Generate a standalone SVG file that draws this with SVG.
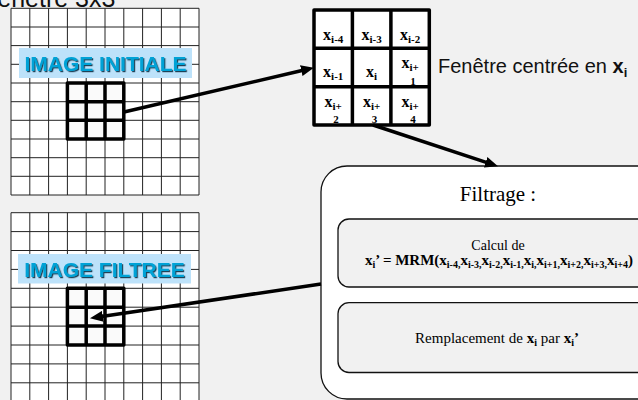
<svg xmlns="http://www.w3.org/2000/svg" width="638" height="400" viewBox="0 0 638 400">
<style>
.grid{fill:none;stroke:#222;stroke-width:1}
.bold{fill:none;stroke:#000;stroke-width:3.5;stroke-linejoin:round}
.lblbox{fill:#bde2fa}
.lbl{font-family:"Liberation Sans",Arial,sans-serif;font-weight:bold;font-size:21px;fill:#00a2d6;filter:url(#sh)}
.cell{font-family:"Liberation Serif","Times New Roman",serif;font-weight:bold;font-size:16px;fill:#000}
.sub{font-size:11px}
.tm{font-family:"Liberation Serif","Times New Roman",serif;fill:#000}
.conn{stroke:#000;stroke-width:3.5;fill:none;marker-end:url(#ah)}
.box{fill:#f1f1f1;stroke:#111;stroke-width:1.3}
</style>
<defs>
<filter id="sh" x="-10%" y="-30%" width="120%" height="160%">
<feDropShadow dx="1.2" dy="1.2" stdDeviation="0.4" flood-color="#0d3346" flood-opacity="0.9"/>
</filter>
<marker id="ah" markerUnits="userSpaceOnUse" markerWidth="14" markerHeight="11" refX="3" refY="5.5" orient="auto" viewBox="0 0 14 11">
<path d="M0,0 L13,5.5 L0,11 z" fill="#000"/>
</marker>
</defs>
<rect x="0" y="0" width="638" height="400" fill="#f1f1f1"/>

<g id="title">
<text x="-18" y="7" font-family="Liberation Sans,Arial,sans-serif" font-size="25" fill="#111">Fenêtre 3x3</text>
</g>

<g id="image-initiale">
<rect x="11" y="8.3" width="188" height="186.7" fill="#fff"/>
<path class="grid" d="M11,8.3V195M29.8,8.3V195M48.6,8.3V195M67.4,8.3V195M86.2,8.3V195M105,8.3V195M123.8,8.3V195M142.6,8.3V195M161.4,8.3V195M180.2,8.3V195M199,8.3V195
M11,8.3H199M11,27H199M11,45.6H199M11,64.3H199M11,83H199M11,101.7H199M11,120.3H199M11,139H199M11,157.7H199M11,176.3H199M11,195H199"/>
<rect x="67.4" y="83" width="56.4" height="56" fill="#fafafa"/>
<path class="bold" d="M67.4,83H123.8V139H67.4Z M86.2,83V139M105,83V139M67.4,101.7H123.8M67.4,120.3H123.8"/>
<rect class="lblbox" x="19" y="48" width="173" height="30"/>
<text class="lbl" x="105.5" y="71" text-anchor="middle">IMAGE INITIALE</text>
</g>

<g id="image-filtree">
<rect x="11" y="212.7" width="188" height="200" fill="#fff"/>
<path class="grid" d="M11,212.7V410M29.8,212.7V410M48.6,212.7V410M67.4,212.7V410M86.2,212.7V410M105,212.7V410M123.8,212.7V410M142.6,212.7V410M161.4,212.7V410M180.2,212.7V410M199,212.7V410
M11,212.7H199M11,231.6H199M11,250.5H199M11,269.4H199M11,288.3H199M11,307.2H199M11,326.1H199M11,345H199M11,363.9H199M11,382.8H199"/>
<rect x="67.4" y="288.3" width="56.4" height="56.7" fill="#fafafa"/>
<path class="bold" d="M67.4,288.3H123.8V345H67.4Z M86.2,288.3V345M105,288.3V345M67.4,307.2H123.8M67.4,326.1H123.8"/>
<rect class="lblbox" x="18" y="254" width="173" height="29.5"/>
<text class="lbl" x="104.5" y="277" text-anchor="middle">IMAGE FILTREE</text>
</g>

<g id="fenetre">
<rect x="314" y="10" width="115.3" height="115" fill="#fff"/>
<path class="bold" d="M314,10H429.3V125H314Z M352.4,10V125M390.9,10V125M314,48.3H429.3M314,86.7H429.3"/>
<text class="cell" x="333.2" y="40" text-anchor="middle">x<tspan class="sub" dy="3">i-4</tspan></text>
<text class="cell" x="371.6" y="40" text-anchor="middle">x<tspan class="sub" dy="3">i-3</tspan></text>
<text class="cell" x="410.1" y="40" text-anchor="middle">x<tspan class="sub" dy="3">i-2</tspan></text>
<text class="cell" x="333.2" y="77" text-anchor="middle">x<tspan class="sub" dy="3">i-1</tspan></text>
<text class="cell" x="371.6" y="77" text-anchor="middle">x<tspan class="sub" dy="3">i</tspan></text>
<text class="cell" x="410.1" y="68" text-anchor="middle">x<tspan class="sub" dy="3">i+</tspan></text>
<text class="cell sub" x="413" y="85" text-anchor="middle">1</text>
<text class="cell" x="333.2" y="107" text-anchor="middle">x<tspan class="sub" dy="3">i+</tspan></text>
<text class="cell sub" x="336" y="123" text-anchor="middle">2</text>
<text class="cell" x="371.6" y="107" text-anchor="middle">x<tspan class="sub" dy="3">i+</tspan></text>
<text class="cell sub" x="374.5" y="123" text-anchor="middle">3</text>
<text class="cell" x="410.1" y="107" text-anchor="middle">x<tspan class="sub" dy="3">i+</tspan></text>
<text class="cell sub" x="413" y="123" text-anchor="middle">4</text>
</g>

<g id="label-fenetre">
<text x="438" y="73" font-family="Liberation Sans,Arial,sans-serif" font-size="20" fill="#111">Fenêtre centrée en <tspan font-weight="bold">x</tspan><tspan font-weight="bold" font-size="13" dy="4">i</tspan></text>
</g>

<g id="filtrage">
<rect x="321" y="166" width="360" height="233" rx="26" ry="26" fill="#fff" stroke="#111" stroke-width="1.3"/>
<text class="tm" x="498" y="200.5" text-anchor="middle" font-size="21">Filtrage :</text>
<g id="calcul">
<rect class="box" x="338" y="219" width="320" height="68" rx="11" ry="11"/>
<text class="tm" x="498" y="250" text-anchor="middle" font-size="14">Calcul de</text>
<text class="tm" x="499" y="264.5" text-anchor="middle" font-size="15" font-weight="bold">x<tspan font-size="10" dy="3">i</tspan><tspan dy="-3">’ = MRM(x</tspan><tspan font-size="10" dy="3">i-4,</tspan><tspan dy="-3">x</tspan><tspan font-size="10" dy="3">i-3,</tspan><tspan dy="-3">x</tspan><tspan font-size="10" dy="3">i-2,</tspan><tspan dy="-3">x</tspan><tspan font-size="10" dy="3">i-1,</tspan><tspan dy="-3">x</tspan><tspan font-size="10" dy="3">i,</tspan><tspan dy="-3">x</tspan><tspan font-size="10" dy="3">i+1,</tspan><tspan dy="-3">x</tspan><tspan font-size="10" dy="3">i+2,</tspan><tspan dy="-3">x</tspan><tspan font-size="10" dy="3">i+3,</tspan><tspan dy="-3">x</tspan><tspan font-size="10" dy="3">i+4</tspan><tspan dy="-3">)</tspan></text>
</g>
<g id="remplacement">
<rect class="box" x="338" y="302.7" width="320" height="69.8" rx="11" ry="11"/>
<text class="tm" x="497" y="343.3" text-anchor="middle" font-size="15">Remplacement de <tspan font-weight="bold">x</tspan><tspan font-weight="bold" font-size="10" dy="3">i</tspan><tspan dy="-3"> par </tspan><tspan font-weight="bold">x</tspan><tspan font-weight="bold" font-size="10" dy="3">i</tspan><tspan font-weight="bold" dy="-3">’</tspan></text>
</g>
</g>

<g id="connectors">
<line class="conn" x1="124" y1="112" x2="304.2" y2="70"/>
<line class="conn" x1="373" y1="125" x2="488.5" y2="163.2"/>
<line class="conn" x1="321" y1="284" x2="99.9" y2="316.7"/>
</g>
</svg>
